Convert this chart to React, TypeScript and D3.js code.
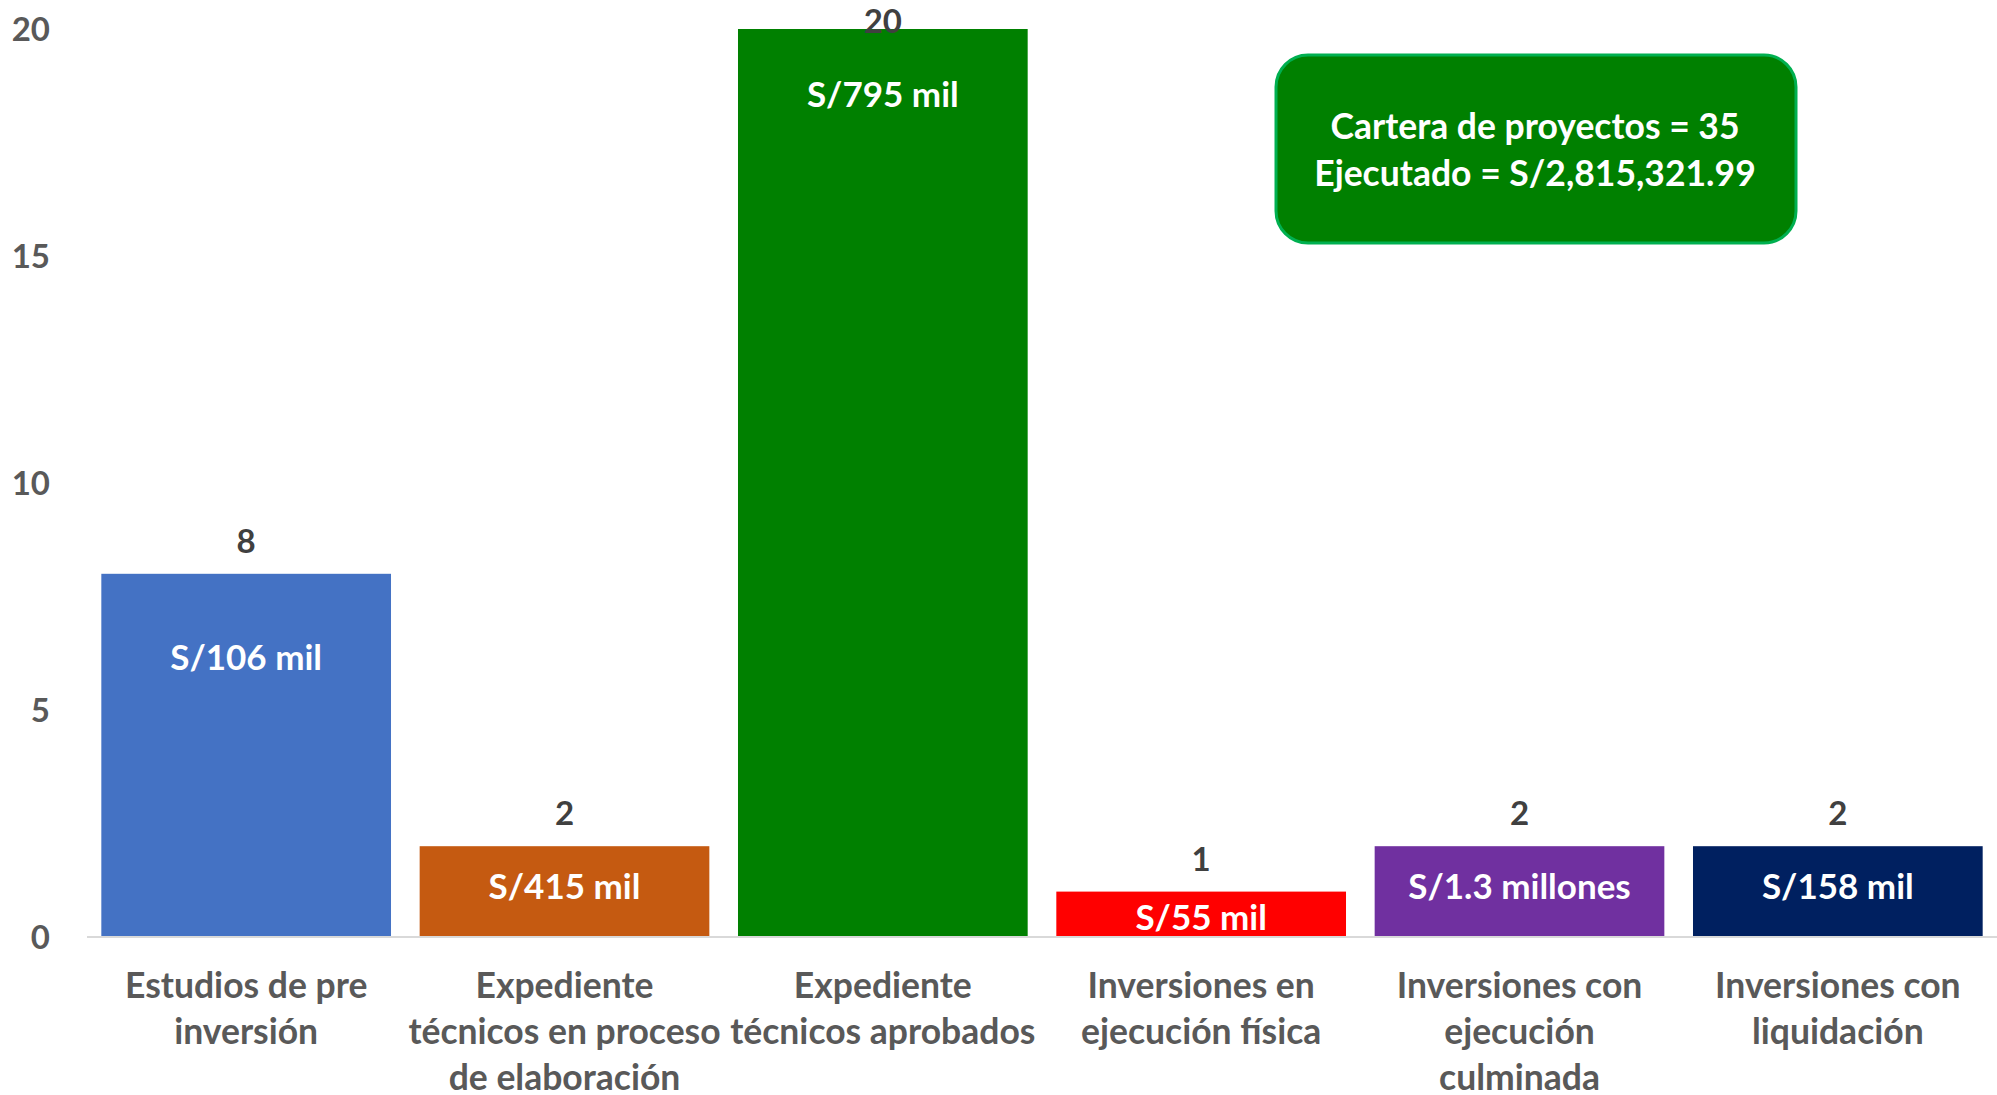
import React from "react";
import * as d3 from "d3";

const categories: string[][] = [
  ["Estudios de pre", "inversión"],
  ["Expediente", "técnicos en proceso", "de elaboración"],
  ["Expediente", "técnicos aprobados"],
  ["Inversiones en", "ejecución física"],
  ["Inversiones con", "ejecución", "culminada"],
  ["Inversiones con", "liquidación"],
];
const counts: number[] = [8, 2, 20, 1, 2, 2];
const amounts: string[] = ["S/106 mil", "S/415 mil", "S/795 mil", "S/55 mil", "S/1.3 millones", "S/158 mil"];
const colors: string[] = ["#4472C4", "#C55A11", "#008000", "#FF0000", "#7030A0", "#002060"];
const yTicks: number[] = [0, 5, 10, 15, 20];
const summaryLines: string[] = ["Cartera de proyectos = 35", "Ejecutado = S/2,815,321.99"];

// layout (pixel offsets of inner amount labels below bar top, baseline)
const innerOffsets = [96.5, 53, 78, 38, 53, 53];

const W = 1997;
const H = 1095;
const FONT = "Lato, 'Open Sans', sans-serif";

export default function App() {
  const keys = categories.map((c) => c.join(" "));
  const x = d3.scaleBand<string>().domain(keys).range([87, 1997]).paddingInner(0.09).paddingOuter(0.045);
  const y = d3.scaleLinear().domain([0, 20]).range([937, 29]);

  return (
    <svg
      width={W}
      height={H}
      style={{ position: "absolute", left: 0, top: 0, display: "block", background: "#fff" }}
      fontFamily={FONT}
      fontWeight="bold"
    >
      {/* y tick labels */}
      {yTicks.map((t) => (
        <text key={t} x={50} y={y(t)} dy="0.36em" textAnchor="end" fontSize={33} fill="#595959">
          {t}
        </text>
      ))}
      {/* bars */}
      {counts.map((v, i) => (
        <rect key={i} x={x(keys[i])} y={y(v)} width={x.bandwidth()} height={y(0) - y(v)} fill={colors[i]} />
      ))}
      {/* baseline */}
      <line x1={87} x2={1997} y1={y(0)} y2={y(0)} stroke="#D9D9D9" strokeWidth={2} />
      {/* value labels */}
      {counts.map((v, i) => (
        <text
          key={"v" + i}
          x={(x(keys[i]) as number) + x.bandwidth() / 2}
          y={Math.max(y(v) - 21, 33)}
          textAnchor="middle"
          fontSize={33}
          fill="#404040"
        >
          {v}
        </text>
      ))}
      {/* inner amount labels */}
      {amounts.map((a, i) => (
        <text
          key={"a" + i}
          x={(x(keys[i]) as number) + x.bandwidth() / 2}
          y={y(counts[i]) + innerOffsets[i]}
          textAnchor="middle"
          fontSize={35}
          fill="#FFFFFF"
        >
          {a}
        </text>
      ))}
      {/* category labels */}
      {categories.map((lines, i) => (
        <text
          key={"c" + i}
          x={(x(keys[i]) as number) + x.bandwidth() / 2}
          y={998}
          textAnchor="middle"
          fontSize={35.5}
          fill="#595959"
        >
          {lines.map((l, j) => (
            <tspan key={j} x={(x(keys[i]) as number) + x.bandwidth() / 2} dy={j === 0 ? 0 : 46}>
              {l}
            </tspan>
          ))}
        </text>
      ))}
      {/* summary box */}
      <rect x={1276} y={55} width={520} height={188} rx={32} ry={32} fill="#008000" stroke="#00B050" strokeWidth={3} />
      {summaryLines.map((l, i) => (
        <text key={"s" + i} x={1535} y={139 + i * 47} textAnchor="middle" fontSize={35.5} fill="#FFFFFF">
          {l}
        </text>
      ))}
    </svg>
  );
}
